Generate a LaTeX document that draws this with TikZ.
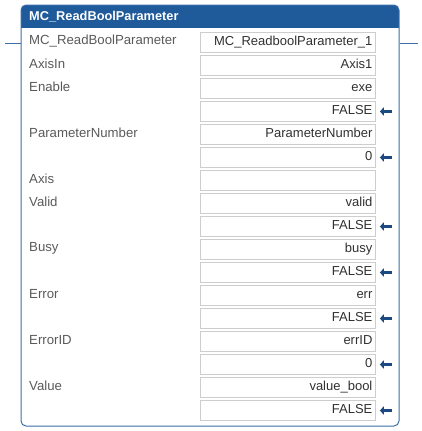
\documentclass[tikz,border=0pt]{standalone}
\usepackage{fontspec}
\setmainfont{Liberation Sans}
\usetikzlibrary{positioning,arrows.meta}
\definecolor{fbhead}{HTML}{1F5A9A}
\definecolor{fbframe}{HTML}{3C6EA8}
\definecolor{boxgray}{HTML}{CDCDCD}
\definecolor{lblgray}{HTML}{5A5A5A}
\definecolor{valtext}{HTML}{303030}
\definecolor{pinblue}{HTML}{1B4A80}

\begin{document}
\begin{tikzpicture}[x=1pt,y=-1pt,
    valbox/.style={draw=boxgray,line width=0.8pt,anchor=west,text width=169pt,align=right,
      inner xsep=3pt,inner ysep=0pt,minimum height=19.5pt,font=\fontsize{13}{14}\selectfont,text=valtext},
    pinlabel/.style={anchor=west,inner sep=0pt,font=\fontsize{13.2}{14}\selectfont,text=lblgray},
    retarrow/.style={-{Triangle[width=8pt,length=4pt]},line width=3.6pt,pinblue}
    ]

    \useasboundingbox (0,0) rectangle (422,431);

    % block with header
    \begin{scope}
      \clip[rounded corners=5pt] (21,5) rectangle (399,426);
      \fill[fbhead] (21,5) rectangle (399,28);
    \end{scope}
    \node (blk) [draw=fbframe,line width=1pt,rounded corners=5pt,inner sep=0pt,
      minimum width=378pt,minimum height=421pt] at (210,215.5) {};
    \node (title) [anchor=west,inner sep=0pt,text=white,font=\fontsize{12.8}{14}\bfseries] at (29,16.5) {MC\_ReadBoolParameter};

    % value boxes
    \foreach \r/\txt in {0/MC\_ReadboolParameter\_1,1/Axis1,2/exe,3/FALSE,4/ParameterNumber,5/0,
        6/{},7/valid,8/FALSE,9/busy,10/FALSE,11/err,12/FALSE,13/errID,14/0,15/value\_bool,16/FALSE}
      \node (v\r) [valbox] at (200,42.5+\r*23) {\strut\txt};

    % pin names
    \foreach \r/\txt in {0/MC\_ReadBoolParameter,1/AxisIn,2/Enable,4/ParameterNumber,6/Axis,
        7/Valid,9/Busy,11/Error,13/ErrorID,15/Value}
      \node (p\r) [pinlabel] at (29,41+\r*23) {\txt};

    % returned values
    \foreach \r in {3,5,8,10,12,14,16}
      {\coordinate (a\r) at (392,42.5+\r*23);
        \draw[retarrow] (a\r) -- ([xshift=4pt]v\r.east);
      }

    % rung
    \coordinate (lrung) at (5,43);
    \coordinate (rrung) at (418,43);
    \draw[fbframe,line width=0.8pt] (lrung) -- (blk.west |- lrung);
    \draw[fbframe,line width=0.8pt] (blk.east |- rrung) -- (rrung);

  \end{tikzpicture}
\end{document}
